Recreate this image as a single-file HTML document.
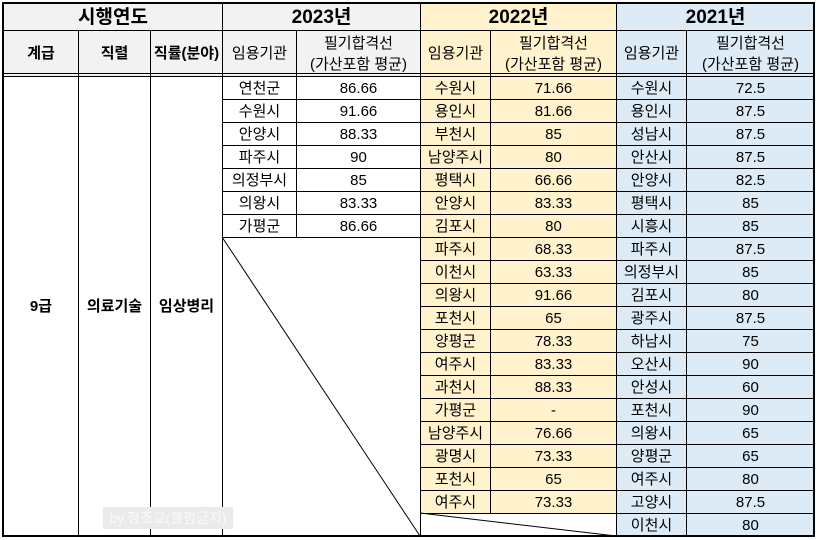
<!DOCTYPE html>
<html><head><meta charset="utf-8">
<style>
html,body{margin:0;padding:0;background:#fff;width:818px;height:540px;overflow:hidden}
#t{position:absolute;left:0;top:0;width:818px;height:540px;font-family:"Liberation Sans","Noto Sans CJK KR",sans-serif;color:#000}
.c{position:absolute;box-sizing:border-box;display:flex;align-items:center;justify-content:center;text-align:center;font-size:15px;line-height:19px;border:1px solid #000;white-space:nowrap}
.b{font-weight:bold}
.h1{font-size:19px;font-weight:bold}
.hh{line-height:21px}
.wm{position:absolute;left:103px;top:507px;width:130px;height:22px;background:#ebebeb;color:#fafafa;font-size:14px;line-height:22px;font-family:"Liberation Sans","Noto Sans CJK KR",sans-serif;text-align:center}
</style></head><body>
<div id="t"></div>
<script>
const y2023Org=["연천군","수원시","안양시","파주시","의정부시","의왕시","가평군"];
const y2023Val=["86.66","91.66","88.33","90","85","83.33","86.66"];
const y2022Org=["수원시","용인시","부천시","남양주시","평택시","안양시","김포시","파주시","이천시","의왕시","포천시","양평군","여주시","과천시","가평군","남양주시","광명시","포천시","여주시"];
const y2022Val=["71.66","81.66","85","80","66.66","83.33","80","68.33","63.33","91.66","65","78.33","83.33","88.33","-","76.66","73.33","65","73.33"];
const y2021Org=["수원시","용인시","성남시","안산시","안양시","평택시","시흥시","파주시","의정부시","김포시","광주시","하남시","오산시","안성시","포천시","의왕시","양평군","여주시","고양시","이천시"];
const y2021Val=["72.5","87.5","87.5","87.5","82.5","85","85","87.5","85","80","87.5","75","90","60","90","65","65","80","87.5","80"];
const X=[3,78,150,222,296,420,490,616,686,814];
const T0=3,T1=30,T2=76,RH=23;
const root=document.getElementById('t');
const GRAY="#f2f2f2",YEL="#fff2cc",BLU="#ddebf7";
function cell(c0,c1,y0,y1,txt,bg,cls,name){
  const d=document.createElement('div');
  d.className='c '+(cls||'');
  d.style.left=X[c0]+'px';d.style.top=y0+'px';
  d.style.width=(X[c1]-X[c0]+1)+'px';d.style.height=(y1-y0+1)+'px';
  if(bg)d.style.background=bg;
  d.innerHTML=txt;
  
  
  root.appendChild(d);return d;
}
cell(0,3,T0,T1,"시행연도",GRAY,"h1","header-year-label");
cell(3,5,T0,T1,"2023년",GRAY,"h1","header-2023");
cell(5,7,T0,T1,"2022년",YEL,"h1","header-2022");
cell(7,9,T0,T1,"2021년",BLU,"h1","header-2021");
const hb="<span>필기합격선<br>(가산포함 평균)</span>";
cell(0,1,T1,T2,"계급",GRAY,"b","header-grade");
cell(1,2,T1,T2,"직렬",GRAY,"b","header-series");
cell(2,3,T1,T2,"직률(분야)",GRAY,"b","header-field");
cell(3,4,T1,T2,"임용기관",GRAY,"","header-2023-org");
cell(4,5,T1,T2,hb,GRAY,"hh","header-2023-score");
cell(5,6,T1,T2,"임용기관",YEL,"","header-2022-org");
cell(6,7,T1,T2,hb,YEL,"hh","header-2022-score");
cell(7,8,T1,T2,"임용기관",BLU,"","header-2021-org");
cell(8,9,T1,T2,hb,BLU,"hh","header-2021-score");
const BOT=T2+20*RH;
cell(0,1,T2,BOT,"9급",null,"b","grade-cell");
cell(1,2,T2,BOT,"의료기술",null,"b","series-cell");
cell(2,3,T2,BOT,"임상병리",null,"b","field-cell");
y2023Org.forEach((o,i)=>{cell(3,4,T2+i*RH,T2+(i+1)*RH,o,null,"","org-2023-"+i);cell(4,5,T2+i*RH,T2+(i+1)*RH,y2023Val[i],null,"","score-2023-"+i);});
cell(3,5,T2+y2023Org.length*RH,BOT,"",null,"","empty-2023");
y2022Org.forEach((o,i)=>{cell(5,6,T2+i*RH,T2+(i+1)*RH,o,YEL,"","org-2022-"+i);cell(6,7,T2+i*RH,T2+(i+1)*RH,y2022Val[i],YEL,"","score-2022-"+i);});
cell(5,7,T2+y2022Org.length*RH,BOT,"",null,"","empty-2022");
y2021Org.forEach((o,i)=>{cell(7,8,T2+i*RH,T2+(i+1)*RH,o,BLU,"","org-2021-"+i);cell(8,9,T2+i*RH,T2+(i+1)*RH,y2021Val[i],BLU,"","score-2021-"+i);});
const dl=document.createElement('div');
dl.style.cssText="position:absolute;left:3px;top:73px;width:811px;height:1px;background:#000";


root.appendChild(dl);
const ns="http://www.w3.org/2000/svg";
const svg=document.createElementNS(ns,'svg');
svg.setAttribute('width','818');svg.setAttribute('height','540');
svg.style.cssText="position:absolute;left:0;top:0";


function ln(x1,y1,x2,y2,n){const l=document.createElementNS(ns,'line');l.setAttribute('x1',x1);l.setAttribute('y1',y1);l.setAttribute('x2',x2);l.setAttribute('y2',y2);l.setAttribute('stroke','#000');l.setAttribute('stroke-width','1');


svg.appendChild(l);}
ln(X[3],T2+y2023Org.length*RH,X[5],BOT,'diagonal-2023');
ln(X[5],T2+y2022Org.length*RH,X[7],BOT,'diagonal-2022');
root.appendChild(svg);
const ob=document.createElement('div');
ob.style.cssText="position:absolute;left:2px;top:2px;width:813px;height:"+(BOT-1)+"px;border:2px solid #000;box-sizing:border-box";


root.appendChild(ob);
</script>
<div class="wm">by.정조교(블펌금지)</div>
</body></html>
